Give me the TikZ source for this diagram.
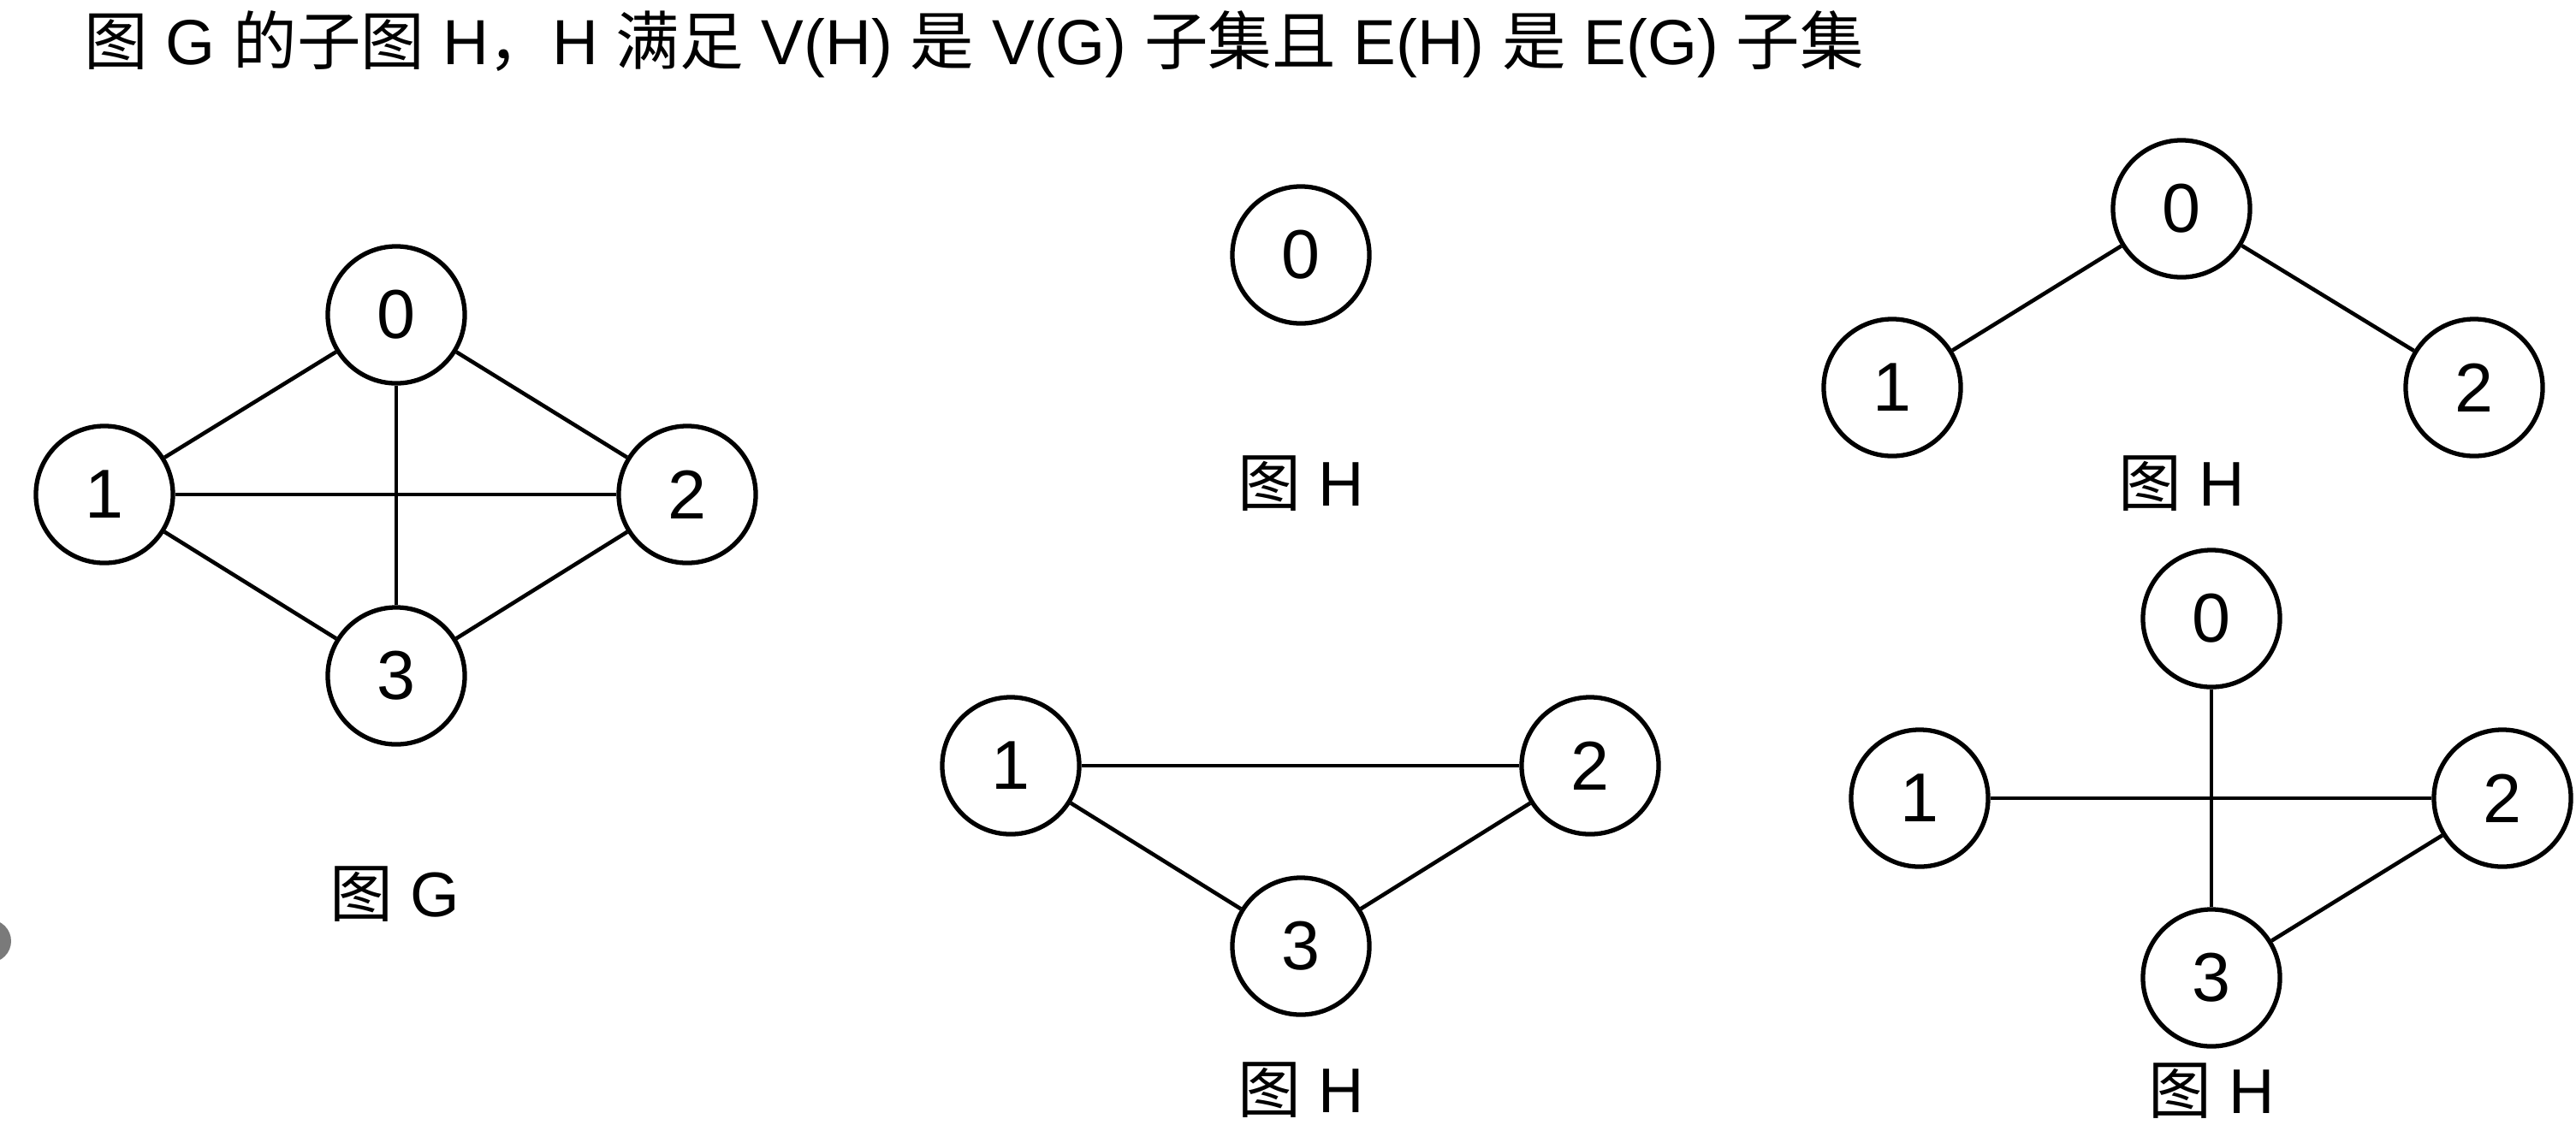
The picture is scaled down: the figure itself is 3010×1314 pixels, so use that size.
\documentclass[tikz,border=0pt]{standalone}
\usepackage{fontspec}
\setmainfont{Liberation Sans}
\newfontfamily\cjk{Noto Sans CJK SC}
\usetikzlibrary{arrows}

\begin{document}
\begin{tikzpicture}[x=0.01cm, y=-0.01cm,
  vert/.style={draw, circle, line width=1.5pt, minimum size=1.6cm, inner sep=0pt,
    font=\fontsize{23}{23}\selectfont},
  edge/.style={line width=1.3pt},
  caption/.style={anchor=base, inner sep=0pt, font=\fontsize{21}{21}\selectfont}]
\useasboundingbox (0,0) rectangle (3010,1314);
% заголовок
\node [anchor=base west, inner sep=0pt, font=\fontsize{21.2}{21.2}\selectfont] (title) at (98,75)
  {{\cjk 图} G {\cjk 的子图} H{\cjk ，}H {\cjk 满足} V(H) {\cjk 是} V(G) {\cjk 子集且} E(H) {\cjk 是} E(G) {\cjk 子集}};
% пятно у края
\begin{scope}
\clip (0,0) rectangle (3010,1314);
\fill [black!52] (-12,1100) circle [radius=25];
\end{scope}
% граф G
\node [vert] (g0) at (463,368) {0};
\node [vert] (g1) at (122,578) {1};
\node [vert] (g2) at (803,578) {2};
\node [vert] (g3) at (463,790) {3};
\draw [edge] (g0)--(g1);
\draw [edge] (g0)--(g2);
\draw [edge] (g0)--(g3);
\draw [edge] (g1)--(g2);
\draw [edge] (g1)--(g3);
\draw [edge] (g2)--(g3);
\node [caption] (capg) at (461,1071) {{\cjk 图} G};
% подграф: одна вершина
\node [vert] (a0) at (1520,298) {0};
\node [caption] (capa) at (1520,591) {{\cjk 图} H};
% подграф: 0, 1, 2
\node [vert] (b0) at (2549,244) {0};
\node [vert] (b1) at (2211,453) {1};
\node [vert] (b2) at (2891,453) {2};
\draw [edge] (b0)--(b1);
\draw [edge] (b0)--(b2);
\node [caption] (capb) at (2549,591) {{\cjk 图} H};
% подграф: 1, 2, 3
\node [vert] (c1) at (1181,895) {1};
\node [vert] (c2) at (1858,895) {2};
\node [vert] (c3) at (1520,1106) {3};
\draw [edge] (c1)--(c2);
\draw [edge] (c1)--(c3);
\draw [edge] (c2)--(c3);
\node [caption] (capc) at (1520,1300) {{\cjk 图} H};
% подграф: 0, 1, 2, 3
\node [vert] (d0) at (2584,723) {0};
\node [vert] (d1) at (2243,933) {1};
\node [vert] (d2) at (2924,933) {2};
\node [vert] (d3) at (2584,1143) {3};
\draw [edge] (d0)--(d3);
\draw [edge] (d1)--(d2);
\draw [edge] (d2)--(d3);
\node [caption] (capd) at (2584,1301) {{\cjk 图} H};
\end{tikzpicture}
\end{document}
